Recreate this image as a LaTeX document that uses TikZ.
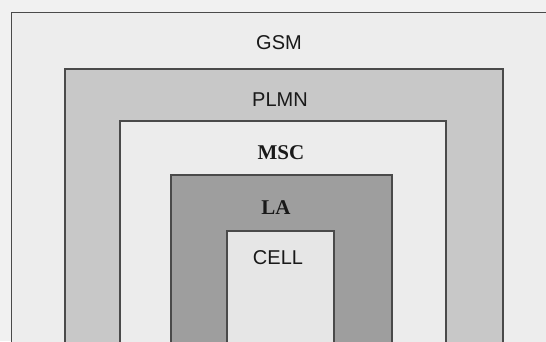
\documentclass[tikz,border=0pt]{standalone}
\usepackage{fontspec}
\setmainfont{Liberation Serif}
\setsansfont{Liberation Sans}
\definecolor{bgc}{HTML}{F1F1F1}
\definecolor{gsmc}{HTML}{EDEDED}
\definecolor{plmnc}{HTML}{C8C8C8}
\definecolor{mscc}{HTML}{ECECEC}
\definecolor{lac}{HTML}{9E9E9E}
\definecolor{cellc}{HTML}{E6E6E6}
\definecolor{edgec}{HTML}{4A4A4A}
\tikzset{
  zone/.style={draw=edgec, line width=1.2pt},
  sanslabel/.style={font=\sffamily\fontsize{20}{24}\selectfont, text=black!90, inner sep=0pt},
  seriflabel/.style={font=\rmfamily\bfseries\fontsize{21}{25}\selectfont, text=black!90, inner sep=0pt}
}
\begin{document}
\begin{tikzpicture}[x=1pt,y=-1pt]
\useasboundingbox (0,0) rectangle (546,341);
\clip (0,0) rectangle (546,341);
\fill[bgc] (0,0) rectangle (546,341);
\path[zone, fill=gsmc] (11.5,12.5) rectangle (560,360);
\path[zone, fill=plmnc] (65,69) rectangle (503,360);
\path[zone, fill=mscc] (120,121) rectangle (446,360);
\path[zone, fill=lac] (171,175) rectangle (392,360);
\path[zone, fill=cellc] (227,231) rectangle (334,360);
\node[sanslabel] (gsm) at (279,43) {GSM};
\node[sanslabel] (plmn) at (280,100) {PLMN};
\node[seriflabel] (msc) at (281,153) {MSC};
\node[seriflabel] (la) at (276,208) {LA};
\node[sanslabel] (cell) at (278,258) {CELL};
\end{tikzpicture}
\end{document}
